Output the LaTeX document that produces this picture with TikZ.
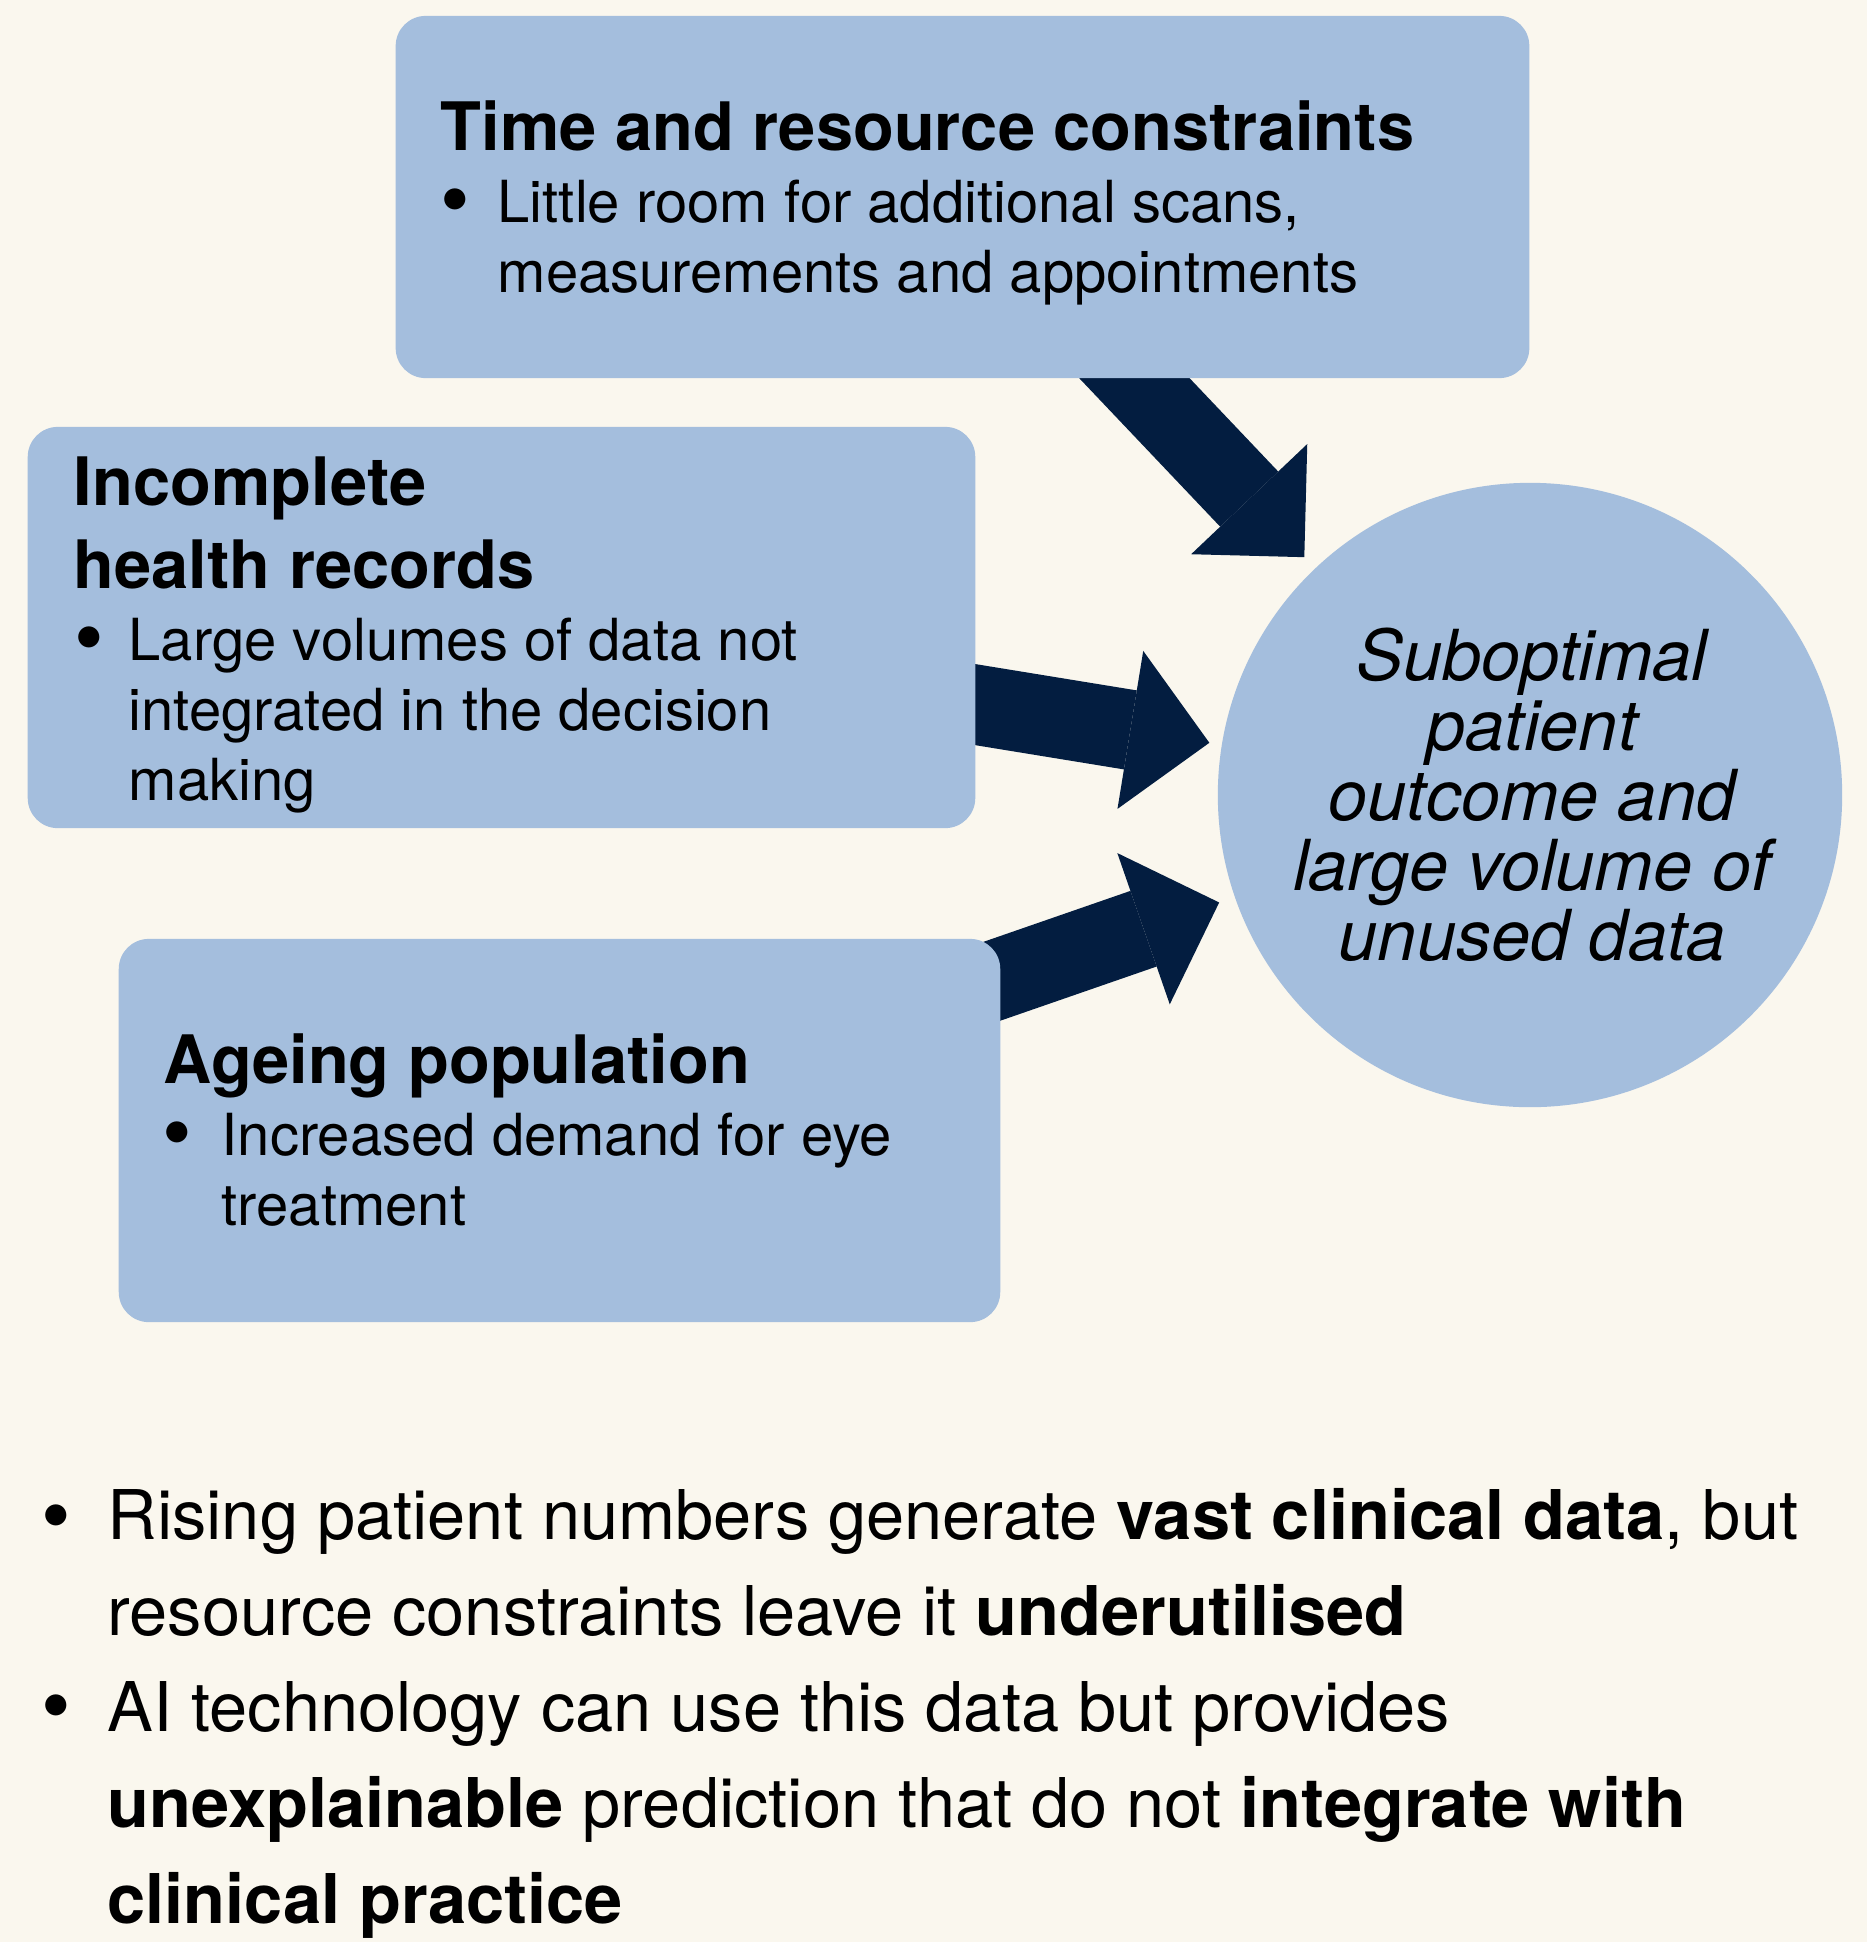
\documentclass[tikz,border=0pt]{standalone}
\usepackage{fontspec}
\setmainfont{TeX Gyre Heros}
\usetikzlibrary{arrows.meta,backgrounds}

\definecolor{paper}{HTML}{FAF7EE}
\definecolor{boxblue}{HTML}{A4BEDD}
\definecolor{navy}{HTML}{031D40}

\tikzset{
  causebox/.style={rectangle, rounded corners=0.3cm, fill=boxblue, inner sep=0pt},
  heading/.style={anchor=base west, inner sep=0pt, align=left, font=\fontsize{19}{23.6}\selectfont\bfseries},
  bodytext/.style={anchor=base west, inner sep=0pt, align=left, font=\fontsize{16.5}{19.9}\selectfont},
  bulletdot/.style={anchor=base, inner sep=0pt, font=\fontsize{24}{24}\selectfont},
  summary/.style={anchor=base west, inner sep=0pt, align=left, font=\fontsize{19.5}{27.3}\selectfont},
  bigarrow/.style={draw=navy, line width=0.8cm, -{Triangle[length=0.8cm, width=1.6cm, line width=0pt]}}
}

\begin{document}
\begin{tikzpicture}[x=0.01cm, y=-0.01cm]
  \useasboundingbox (0,0) rectangle (1867,1942);

  % the three causes and the outcome
  \node[causebox, minimum width=11.33cm, minimum height=3.62cm] (timebox) at (962.5,197) {};
  \node[causebox, minimum width=9.47cm, minimum height=4.01cm] (recordbox) at (501.5,627.5) {};
  \node[causebox, minimum width=8.81cm, minimum height=3.83cm] (ageingbox) at (559.5,1130.5) {};
  \node[circle, fill=boxblue, minimum size=6.24cm, inner sep=0pt] (outcome) at (1530,795) {};

  % box texts (multi-line nodes sit on their last baseline)
  \node[heading] (timehead) at (440,150) {Time and resource constraints};
  \node[bulletdot] (timedot) at (455,228) {\textbullet};
  \node[bodytext] (timetext) at (497,292) {Little room for additional scans,\\measurements and appointments};

  \node[heading] (recordhead) at (73,588) {Incomplete\\health records};
  \node[bulletdot] (recorddot) at (89,666) {\textbullet};
  \node[bodytext] (recordtext) at (128,800) {Large volumes of data not\\integrated in the decision\\making};

  \node[heading] (ageinghead) at (163,1083) {Ageing population};
  \node[bulletdot] (ageingdot) at (177,1161) {\textbullet};
  \node[bodytext] (ageingtext) at (221,1225) {Increased demand for eye\\treatment};

  \node[anchor=base, inner sep=0pt, align=center, font=\fontsize{20}{19.9}\selectfont\itshape] (outcometext) at (1532,960)
    {Suboptimal\\patient\\outcome and\\large volume of\\unused data};

  % summary points under the diagram
  \node[bulletdot] (risedot) at (56,1544) {\textbullet};
  \node[summary] (risetext) at (107,1635) {Rising patient numbers generate \textbf{vast clinical data}, but\\resource constraints leave it \textbf{underutilised}};
  \node[bulletdot] (aidot) at (56,1734) {\textbullet};
  \node[summary] (aitext) at (107,1923) {AI technology can use this data but provides\\\textbf{unexplainable} prediction that do not \textbf{integrate with}\\\textbf{clinical practice}};

  % paper and the arrows go underneath the boxes
  \begin{scope}[on background layer]
    \fill[paper] (0,0) rectangle (1867,1942);
    \draw[bigarrow, shorten <=-0.4cm, shorten >=0.15cm] (timebox) -- (outcome);
    \draw[bigarrow, shorten <=-0.4cm, shorten >=0.12cm] (recordbox) -- (outcome);
    \draw[bigarrow, shorten <=-0.4cm, shorten >=0.16cm] (ageingbox) -- (outcome);
  \end{scope}
\end{tikzpicture}
\end{document}
